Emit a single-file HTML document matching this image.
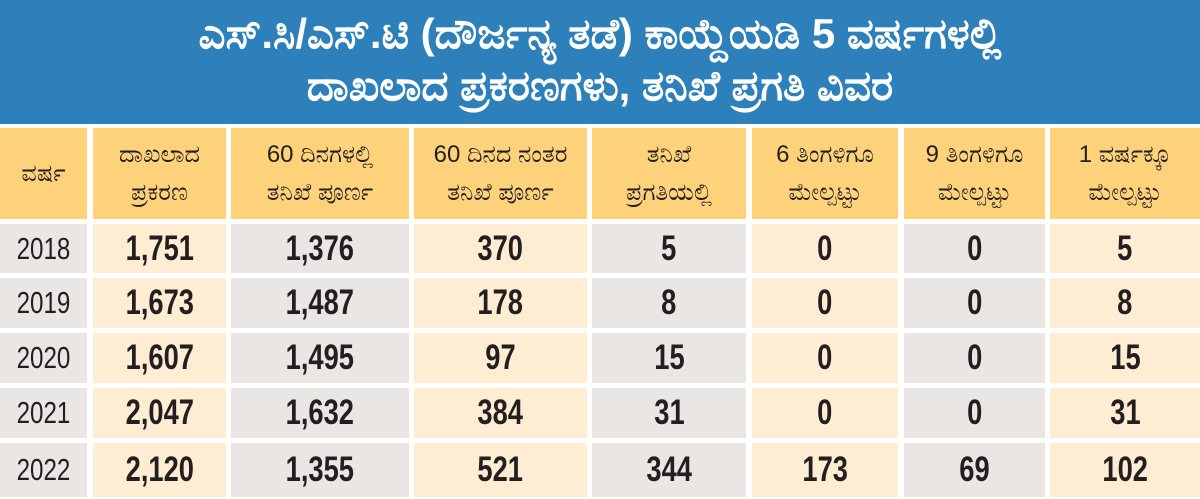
<!DOCTYPE html>
<html><head><meta charset="utf-8"><style>
body{margin:0;width:1200px;height:499px;background:#fff;overflow:hidden;position:relative;font-family:"Liberation Sans Narrow","Liberation Sans",sans-serif;}
.t{position:absolute;left:0;top:0;width:1200px;height:124px;background:#2d80b9;color:#fff;text-align:center;font-weight:bold;font-size:42px;line-height:52px;padding-top:8px;box-sizing:border-box;font-family:"Liberation Sans","Noto Sans CJK SC",sans-serif;}
.c{position:absolute;display:flex;align-items:center;justify-content:center;text-align:center;color:#231f20;}
.c span{display:inline-block;transform:scaleX(0.78);}
.h{background:#fdd27b;font-size:24px;line-height:38px;font-family:"Liberation Sans","Noto Sans CJK SC",sans-serif;}
.g{background:#e9e6e4}.p{background:#feedd3}
.n{font-weight:bold;font-size:35px}
.y{font-size:31px}
</style></head><body>
<div class="t">ಎಸ್.ಸಿ/ಎಸ್.ಟಿ (ದೌರ್ಜನ್ಯ ತಡೆ) ಕಾಯ್ದೆಯಡಿ 5 ವರ್ಷಗಳಲ್ಲಿ<br>ದಾಖಲಾದ ಪ್ರಕರಣಗಳು, ತನಿಖೆ ಪ್ರಗತಿ ವಿವರ</div>
<div id="tb"></div>
<script>
const cols=[[0,87],[93,226],[231,409],[414,587],[592,746],[752,898],[904,1045],[1050,1200]];
const hdr=["ವರ್ಷ","ದಾಖಲಾದ<br>ಪ್ರಕರಣ","60 ದಿನಗಳಲ್ಲಿ<br>ತನಿಖೆ ಪೂರ್ಣ","60 ದಿನದ ನಂತರ<br>ತನಿಖೆ ಪೂರ್ಣ","ತನಿಖೆ<br>ಪ್ರಗತಿಯಲ್ಲಿ","6 ತಿಂಗಳಿಗೂ<br>ಮೇಲ್ಪಟ್ಟು","9 ತಿಂಗಳಿಗೂ<br>ಮೇಲ್ಪಟ್ಟು","1 ವರ್ಷಕ್ಕೂ<br>ಮೇಲ್ಪಟ್ಟು"];
const data=[["2018","1,751","1,376","370","5","0","0","5"],["2019","1,673","1,487","178","8","0","0","8"],["2020","1,607","1,495","97","15","0","0","15"],["2021","2,047","1,632","384","31","0","0","31"],["2022","2,120","1,355","521","344","173","69","102"]];
const rows=[[224,273],[278,328],[333,383],[388,438],[443,497]];
let s="";
cols.forEach((c,i)=>{s+=`<div class="c h" style="left:${c[0]}px;width:${c[1]-c[0]}px;top:128px;height:91px">${hdr[i]}</div>`;});
rows.forEach((r,j)=>cols.forEach((c,i)=>{s+=`<div class="c ${i%2?'p':'g'} ${i?'n':'y'}" style="left:${c[0]}px;width:${c[1]-c[0]}px;top:${r[0]}px;height:${r[1]-r[0]}px"><span>${data[j][i]}</span></div>`;}));
document.getElementById("tb").innerHTML=s;
</script>
</body></html>
